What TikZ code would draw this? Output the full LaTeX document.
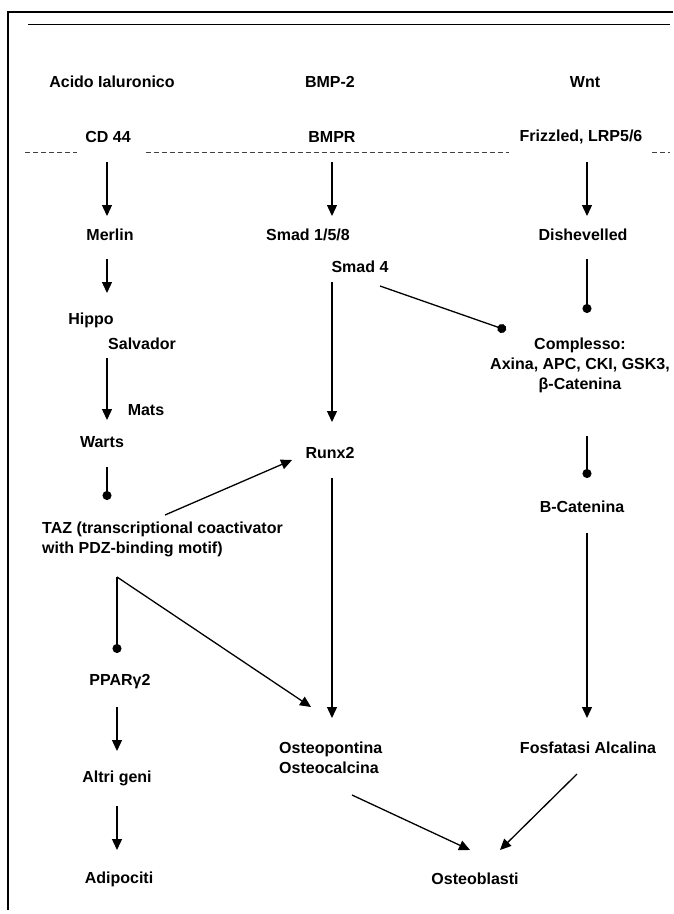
\documentclass[tikz,border=0pt]{standalone}
\usepackage{fontspec}
\setmainfont{Liberation Sans}
\usetikzlibrary{arrows.meta,calc}
\begin{document}
\begin{tikzpicture}[x=1pt,y=-1pt,
  lbl/.style={inner sep=0pt,font=\fontsize{16}{20}\selectfont\bfseries},
  lblc/.style={lbl,align=center},
  lbll/.style={lbl,align=left,anchor=west},
  conn/.style={line width=1.3pt},
  arr/.style={conn,-{Triangle[length=11pt,width=10pt]}},
  dotend/.style={conn,-{Circle[length=9pt]}},
  frame/.style={black},
  memb/.style={line width=1pt,black!75,dash pattern=on 5pt off 3pt}]
\useasboundingbox (0,0) rectangle (673,914);
\fill[white] (0,0) rectangle (673,914);
% frame
\draw[frame,line width=2pt] (7,12) -- (673,12);
\draw[frame,line width=1.5pt] (8,11) -- (8,910);
\draw[frame,line width=1pt] (28,24) -- (670,24);
% membrane
\draw[memb] (25,152) -- (77,152);
\draw[memb] (146,152) -- (509,152);
\draw[memb] (652,152) -- (670,152);
% nodes
\node[lbl] (acido) at (112,82) {Acido Ialuronico};
\node[lbl] (bmp2) at (330,82) {BMP-2};
\node[lbl] (wnt) at (585,82) {Wnt};
\node[lbl] (cd44) at (108,137) {CD 44};
\node[lbl] (bmpr) at (332,137) {BMPR};
\node[lbl] (friz) at (581,137) {Frizzled, LRP5/6};
\node[lbl] (merlin) at (110,235) {Merlin};
\node[lbl] (smad158) at (308,235) {Smad 1/5/8};
\node[lbl] (dish) at (583,235) {Dishevelled};
\node[lbl] (smad4) at (360,267) {Smad 4};
\node[lbl] (hippo) at (91,320) {Hippo};
\node[lbl] (salvador) at (142,344) {Salvador};
\node[lbl] (mats) at (146,410) {Mats};
\node[lbl] (warts) at (102,442) {Warts};
\node[lbl] (runx2) at (330,453) {Runx2};
\node[lblc] (complesso) at (580,365) {Complesso:\\Axina, APC, CKI, GSK3,\\β-Catenina};
\node[lbl] (bcat) at (582,507) {B-Catenina};
\node[lbll] (taz) at (42,539.5) {TAZ (transcriptional coactivator\\with PDZ-binding motif)};
\node[lbl] (ppar) at (120,682) {PPARγ2};
\node[lbll] (osteop) at (279,758) {Osteopontina\\Osteocalcina};
\node[lbl] (fosf) at (588,748) {Fosfatasi Alcalina};
\node[lbl] (altri) at (117,778) {Altri geni};
\node[lbl] (adipo) at (119,879) {Adipociti};
\node[lbl] (osteob) at (475,879) {Osteoblasti};
\coordinate (corner) at ($(taz.west)+(75,37.5)$);
% connectors
\draw[arr] ($(cd44)+(-1,25)$) -- ($(merlin)+(-3,-19)$);
\draw[arr] ($(bmpr)+(0,25)$) -- ($(smad158)+(24,-19)$);
\draw[arr] ($(friz)+(6,25)$) -- ($(dish)+(4,-19)$);
\draw[arr] ($(merlin)+(-3,24)$) -- ($(hippo)+(16,-27)$);
\draw[arr] ($(salvador)+(-35,14)$) -- ($(warts)+(5,-22)$);
\draw[arr] ($(smad4)+(-28,15)$) -- ($(runx2)+(2,-31)$);
\draw[dotend] ($(smad4)+(20,19)$) -- ($(complesso)+(-74,-35)$);
\draw[dotend] ($(dish)+(4,24)$) -- ($(complesso)+(7,-52)$);
\draw[dotend] ($(complesso)+(7,71)$) -- ($(bcat)+(5,-29)$);
\draw[dotend] ($(warts)+(5,25)$) -- ($(taz.west)+(65,-39.5)$);
\draw[arr] ($(taz.west)+(123,-24.5)$) -- ($(runx2)+(-38,7)$);
\draw[arr] ($(runx2)+(2,25)$) -- ($(osteop.west)+(53,-40)$);
\draw[dotend] (corner) -- ($(ppar)+(-3,-29)$);
\draw[arr] (corner) -- ($(osteop.west)+(32,-51)$);
\draw[arr] ($(bcat)+(5,26)$) -- ($(fosf)+(-1,-30)$);
\draw[arr] ($(ppar)+(-3,25)$) -- ($(altri)+(0,-27)$);
\draw[arr] ($(altri)+(0,28)$) -- ($(adipo)+(-2,-29)$);
\draw[arr] ($(osteop.west)+(73,37)$) -- ($(osteob)+(-5,-29)$);
\draw[arr] ($(fosf)+(-11,26)$) -- ($(osteob)+(25,-29)$);
\end{tikzpicture}
\end{document}
